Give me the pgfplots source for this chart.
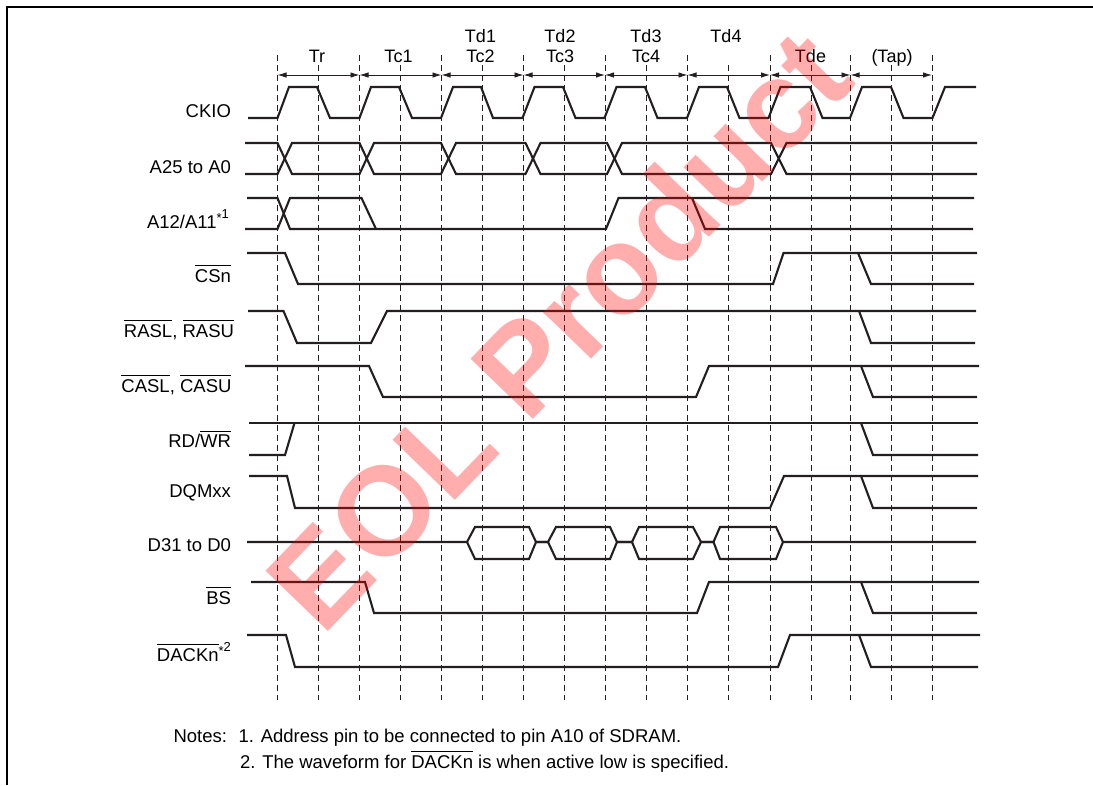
\documentclass[border=0pt]{standalone}
\usepackage{pgfplots}
\pgfplotsset{compat=1.18}
\usepackage{fontspec}
\setmainfont{Liberation Sans}
\usetikzlibrary{arrows.meta}
\definecolor{ink}{RGB}{35,31,32}
\newsavebox\olbox
\newcommand\ol[1]{\sbox\olbox{#1}\rlap{\raisebox{\dimexpr\ht\olbox+2.6pt\relax}{\rule{\wd\olbox}{1.1pt}}}\usebox\olbox}
\newcommand\lf{\fontsize{18.5}{22}\selectfont}
\newcommand\pf{\fontsize{18}{22}\selectfont}
\newcommand\astsup[1]{\raisebox{10pt}{\fontsize{13}{13}\selectfont\raisebox{-4.5pt}{*}#1}}
\begin{document}
\begin{tikzpicture}
\begin{axis}[name=ax, hide axis, scale only axis, width=1093pt, height=785pt,
  xmin=0, xmax=1093, ymin=0, ymax=785, y dir=reverse, clip=false]
% frame
\addplot[line width=2.6pt, black, line join=miter] coordinates {(7,785) (7,7) (1093,7)};
% dashed timing lines
\pgfplotsset{dl/.style={line width=1pt, ink, dash pattern=on 6pt off 4pt}}
\addplot[dl] coordinates {(277.5,55) (277.5,700)};
\addplot[dl] coordinates {(318.5,65) (318.5,700)};
\addplot[dl] coordinates {(359.5,55) (359.5,700)};
\addplot[dl] coordinates {(400.5,65) (400.5,700)};
\addplot[dl] coordinates {(441.5,55) (441.5,700)};
\addplot[dl] coordinates {(482.5,65) (482.5,700)};
\addplot[dl] coordinates {(523.5,55) (523.5,700)};
\addplot[dl] coordinates {(564.5,65) (564.5,700)};
\addplot[dl] coordinates {(605,55) (605,700)};
\addplot[dl] coordinates {(646.5,65) (646.5,700)};
\addplot[dl] coordinates {(687.5,55) (687.5,700)};
\addplot[dl] coordinates {(728.5,65) (728.5,700)};
\addplot[dl] coordinates {(770,55) (770,700)};
\addplot[dl] coordinates {(811,65) (811,700)};
\addplot[dl] coordinates {(850.5,55) (850.5,700)};
\addplot[dl] coordinates {(891.5,65) (891.5,700)};
\addplot[dl] coordinates {(932,55) (932,700)};
% period arrows
\pgfplotsset{ar/.style={line width=0.9pt, ink, {Latex[length=9pt,width=5.5pt]}-{Latex[length=9pt,width=5.5pt]}}}
\addplot[ar] coordinates {(277.5,75) (359.5,75)};
\addplot[ar] coordinates {(359.5,75) (441.5,75)};
\addplot[ar] coordinates {(441.5,75) (523.5,75)};
\addplot[ar] coordinates {(523.5,75) (605,75)};
\addplot[ar] coordinates {(605,75) (687.5,75)};
\addplot[ar] coordinates {(687.5,75) (770,75)};
\addplot[ar] coordinates {(770,75) (850.5,75)};
\addplot[ar] coordinates {(850.5,75) (932,75)};
% signals
\pgfplotsset{sg/.style={line width=2.1pt, ink, line join=miter}}
% CKIO
\addplot[sg] coordinates {(248,118) (277.5,118) (289,87) (317,87) (330,118) (359.5,118) (371,87) (399,87) (412,118) (441,118) (453,87) (481,87) (493,118) (522.5,118) (534.5,87) (563,87) (575.5,118) (604.5,118) (616.5,87) (645,87) (657.5,118) (687,118) (699,87) (727,87) (739.5,118) (768.5,118) (780.5,87) (810,87) (822.5,118) (850,118) (862,87) (891,87) (903.5,118) (932.5,118) (945,87) (976,87)};
% A25 to A0
\addplot[sg] coordinates {(245,143) (277.5,143) (292,174) (359.5,174) (374,143) (441,143) (456,174) (525.5,174) (540.5,143) (607,143) (622,174) (771,174) (786.5,143) (977,143)};
\addplot[sg] coordinates {(245,174) (277.5,174) (292,143) (359.5,143) (374,174) (441,174) (456,143) (525.5,143) (540.5,174) (607,174) (622,143) (771,143) (786.5,174) (977,174)};
% A12/A11
\addplot[sg] coordinates {(247,198) (277.5,198) (290,229) (606,229) (618.5,198) (974,198)};
\addplot[sg] coordinates {(245,229) (277.5,229) (290,198) (361.5,198) (376,229)};
\addplot[sg] coordinates {(692,198) (705,229) (973,229)};
% CSn
\addplot[sg] coordinates {(247,253) (285,253) (298,284) (773,284) (783.5,253) (977,253)};
\addplot[sg] coordinates {(858,253) (871,284) (974,284)};
% RAS
\addplot[sg] coordinates {(248,311) (283.5,311) (297,343) (371,343) (387,311) (976,311)};
\addplot[sg] coordinates {(859,311) (871,343) (975,343)};
% CAS
\addplot[sg] coordinates {(245,366) (369,366) (383,397) (696,397) (709,366) (979,366)};
\addplot[sg] coordinates {(861,366) (873,397) (977,397)};
% RD/WR
\addplot[sg] coordinates {(249,423) (978,423)};
\addplot[sg] coordinates {(249,455) (285,455) (294.5,423)};
\addplot[sg] coordinates {(861,423) (873,455) (978,455)};
% DQMxx
\addplot[sg] coordinates {(249,476) (287,476) (295,508) (770,508) (784,476) (978,476)};
\addplot[sg] coordinates {(861,476) (873,508) (977,508)};
% D31 to D0
\addplot[sg] coordinates {(247,542) (467,542) (475,527) (529,527) (536,542) (548,542) (556,527) (610,527) (617,542) (632,542) (639,527) (693,527) (701,542) (713.5,542) (720,527) (776,527) (783,542) (976,542)};
\addplot[sg] coordinates {(467,542) (475,559) (529,559) (536,542) (548,542) (556,559) (610,559) (617,542) (632,542) (639,559) (693,559) (701,542) (713.5,542) (720,559) (776,559) (783,542)};
% BS
\addplot[sg] coordinates {(251,582) (365,582) (374,613) (697,613) (709,582) (979,582)};
\addplot[sg] coordinates {(861,582) (873,613) (977,613)};
% DACKn
\addplot[sg] coordinates {(247,635) (286,635) (295,667) (778,667) (790,635) (980,635)};
\addplot[sg] coordinates {(859,635) (871,667) (978,667)};
% period labels
\pgfplotsset{every node/.append style={inner sep=0pt, text=ink}}
\node[anchor=base, font=\pf] at (axis cs:317,62.5) {Tr};
\node[anchor=base, font=\pf] at (axis cs:398.5,62.5) {Tc1};
\node[anchor=base, font=\pf] at (axis cs:480.5,62.5) {Tc2};
\node[anchor=base, font=\pf] at (axis cs:480.5,42) {Td1};
\node[anchor=base, font=\pf] at (axis cs:560,62.5) {Tc3};
\node[anchor=base, font=\pf] at (axis cs:560,42) {Td2};
\node[anchor=base, font=\pf] at (axis cs:646,62.5) {Tc4};
\node[anchor=base, font=\pf] at (axis cs:646,42) {Td3};
\node[anchor=base, font=\pf] at (axis cs:726,42) {Td4};
\node[anchor=base, font=\pf] at (axis cs:810.5,62.5) {Tde};
\node[anchor=base, font=\pf] at (axis cs:892,62.5) {(Tap)};
% signal labels
\node[anchor=base east, font=\lf] at (axis cs:234.5,117.5) {CKIO};
\node[anchor=base east, font=\lf] at (axis cs:234.5,173) {A25 to A0};
\node[anchor=base east, font=\lf] at (axis cs:232.5,228) {A12/A11\astsup{1}};
\node[anchor=base east, font=\lf] at (axis cs:234.5,282) {\ol{CSn}};
\node[anchor=base east, font=\lf] at (axis cs:237.5,337) {\ol{RASL}, \ol{RASU}};
\node[anchor=base east, font=\lf] at (axis cs:235,392) {\ol{CASL}, \ol{CASU}};
\node[anchor=base east, font=\lf] at (axis cs:234.5,447) {RD/\ol{WR}};
\node[anchor=base east, font=\lf] at (axis cs:234.5,497.5) {DQMxx};
\node[anchor=base east, font=\lf] at (axis cs:234.5,551) {D31 to D0};
\node[anchor=base east, font=\lf] at (axis cs:234.5,604) {\ol{BS}};
\node[anchor=base east, font=\lf] at (axis cs:234.5,661) {\ol{DACKn}\astsup{2}};
% notes
\node[anchor=base west, font=\lf] at (axis cs:170,742) {Notes:};
\node[anchor=base west, font=\lf] at (axis cs:235,742) {1. Address pin to be connected to pin A10 of SDRAM.};
\node[anchor=base west, font=\lf] at (axis cs:236.5,768) {2. The waveform for \ol{DACKn} is when active low is specified.};
% watermark
\node[rotate=46, text=red, text opacity=0.32, font=\fontsize{126}{126}\selectfont\bfseries, inner sep=0pt] at (axis cs:558,329) {EOL Product};
\end{axis}
\pgfresetboundingbox
\path (ax.south west) rectangle (ax.north east);
\end{tikzpicture}
\end{document}
